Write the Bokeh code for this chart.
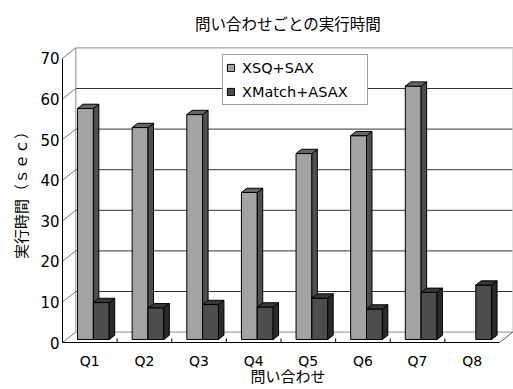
from bokeh.plotting import figure
from bokeh.models import Range1d, FixedTicker, Legend, LegendItem
from bokeh.embed import file_html
from bokeh.resources import INLINE

# ---- data ----
categories = ["Q1", "Q2", "Q3", "Q4", "Q5", "Q6", "Q7", "Q8"]
xsq_sax = [56.9, 52.2, 55.4, 36.2, 45.8, 50.2, 62.4, None]
xmatch_asax = [9.1, 7.8, 8.6, 8.0, 10.2, 7.5, 11.6, 13.4]
series_names = ["XSQ+SAX", "XMatch+ASAX"]
y_ticks = [0, 10, 20, 30, 40, 50, 60, 70]

title_text = "問い合わせごとの実行時間"
x_title = "問い合わせ"
y_title = "実行時間（ｓｅｃ）"

# ---- layout / 3D projection constants ----
W, H = 513, 389
LEFT, BOTTOM, TOP = 62, 47, 40
PX_PER_CAT = 54.625
PX_PER_VAL = 4.06
X_END = (W - LEFT) / PX_PER_CAT
Y_END = (H - BOTTOM - TOP) / PX_PER_VAL
DX = 13.3 / PX_PER_CAT     # wall depth in category units
DY = 10.4 / PX_PER_VAL     # wall depth in value units
F0, F1 = 0.29, 0.70        # bar depth (fraction of wall depth)
BAR_W = 0.29
N = len(categories)
Y_MAX = y_ticks[-1]

p = figure(width=W, height=H, x_range=Range1d(0, X_END), y_range=Range1d(0, Y_END),
           toolbar_location=None, output_backend="svg",
           min_border_left=LEFT, min_border_right=0, min_border_top=TOP,
           min_border_bottom=BOTTOM)
p.outline_line_color = None
p.xgrid.visible = False
p.ygrid.visible = False
p.background_fill_color = "white"

# ---- walls / gridlines ----
grid_dark = [v for v in y_ticks if 0 < v < Y_MAX]
grid_edge = [y_ticks[0], Y_MAX]
p.segment(x0=[DX] * len(grid_dark), y0=[v + DY for v in grid_dark],
          x1=[N + DX] * len(grid_dark), y1=[v + DY for v in grid_dark],
          line_color="#333333", line_width=1)
p.segment(x0=[DX] * 2, y0=[v + DY for v in grid_edge],
          x1=[N + DX] * 2, y1=[v + DY for v in grid_edge],
          line_color="#8a8a8a", line_width=1)
# left wall edge + right back edge
p.segment(x0=[DX, N + DX], y0=[DY, DY], x1=[DX, N + DX], y1=[Y_MAX + DY, Y_MAX + DY],
          line_color=["#8a8a8a", "#d0d0d0"], line_width=1)
# diagonal ticks on left wall
p.segment(x0=[0] * len(y_ticks), y0=y_ticks, x1=[DX] * len(y_ticks),
          y1=[v + DY for v in y_ticks], line_color="#7a7a7a", line_width=1)
# right floor edge
p.segment(x0=[N], y0=[0], x1=[N + DX], y1=[DY], line_color="#555555", line_width=1)
# category boundary ticks on floor front edge
p.segment(x0=list(range(1, N)), y0=[0] * (N - 1), x1=list(range(1, N)),
          y1=[1.0] * (N - 1), line_color="black", line_width=1)

# ---- 3D bars ----
styles = [
    dict(front="#a3a3a3", side="#4f4f4f", top="#666666", off=-0.295),
    dict(front="#4d4d4d", side="#2a2a2a", top="#383838", off=-0.005),
]
legend_renderers = []
for vals, st in zip([xsq_sax, xmatch_asax], styles):
    L, R, B, T = [], [], [], []
    side_xs, side_ys, top_xs, top_ys = [], [], [], []
    for i, v in enumerate(vals):
        if v is None:
            continue
        c = i + 0.5
        x0 = c + st["off"] + F0 * DX
        x1 = x0 + BAR_W
        b0 = F0 * DY
        L.append(x0); R.append(x1); B.append(b0); T.append(v + b0)
        ddx = (F1 - F0) * DX
        ddy = (F1 - F0) * DY
        side_xs.append([x1, x1 + ddx, x1 + ddx, x1])
        side_ys.append([b0, b0 + ddy, v + b0 + ddy, v + b0])
        top_xs.append([x0, x1, x1 + ddx, x0 + ddx])
        top_ys.append([v + b0, v + b0, v + b0 + ddy, v + b0 + ddy])
    r = p.quad(left=L, right=R, bottom=B, top=T, fill_color=st["front"],
               line_color="black", line_width=1)
    p.patches(xs=side_xs, ys=side_ys, fill_color=st["side"], line_color="black", line_width=1)
    p.patches(xs=top_xs, ys=top_ys, fill_color=st["top"], line_color="black", line_width=1)
    legend_renderers.append(r)

# ---- axes ----
yax = p.yaxis[0]
yax.ticker = FixedTicker(ticks=y_ticks)
yax.bounds = (0, Y_MAX)
yax.major_tick_in = 0
yax.major_tick_out = 0
yax.minor_tick_in = 0
yax.minor_tick_out = 0
yax.axis_line_color = "black"
yax.major_label_standoff = 3
yax.major_label_text_font = "DejaVu Sans"
yax.major_label_text_font_size = "15px"
yax.major_label_text_color = "black"
yax.axis_label = y_title
yax.axis_label_text_font = "Noto Sans CJK JP"
yax.axis_label_text_font_size = "15px"
yax.axis_label_text_font_style = "normal"
yax.axis_label_text_color = "black"
yax.axis_label_standoff = 6

xax = p.xaxis[0]
xticks = [i + 0.5 for i in range(N)]
xax.ticker = FixedTicker(ticks=xticks)
xax.major_label_overrides = {t: c for t, c in zip(xticks, categories)}
xax.bounds = (0, N)
xax.major_tick_in = 0
xax.major_tick_out = 0
xax.minor_tick_in = 0
xax.minor_tick_out = 0
xax.axis_line_color = "black"
xax.major_label_standoff = 10
xax.major_label_text_font = "DejaVu Sans"
xax.major_label_text_font_size = "14px"
xax.major_label_text_color = "black"
xax.axis_label = x_title
xax.axis_label_text_font = "Noto Sans CJK JP"
xax.axis_label_text_font_size = "15px"
xax.axis_label_text_font_style = "normal"
xax.axis_label_text_color = "black"
xax.axis_label_standoff = -7

# ---- title ----
p.title.text = title_text
p.title.align = "center"
p.title.vertical_align = "top"
p.title.text_font = "Noto Sans CJK JP"
p.title.text_font_size = "15.5px"
p.title.text_font_style = "normal"
p.title.text_color = "black"

# ---- legend ----
legend = Legend(items=[LegendItem(label=n, renderers=[r]) for n, r in zip(series_names, legend_renderers)],
                location=(160, 237), orientation="vertical",
                padding=3, spacing=5, label_height=19, glyph_height=9, glyph_width=9,
                label_standoff=7, label_width=122,
                label_text_font="DejaVu Sans", label_text_font_size="14.5px",
                label_text_color="black",
                border_line_color="#404040", border_line_width=1,
                background_fill_color="white", background_fill_alpha=1.0)
p.add_layout(legend)

open("out.html", "w").write(file_html(p, INLINE))
